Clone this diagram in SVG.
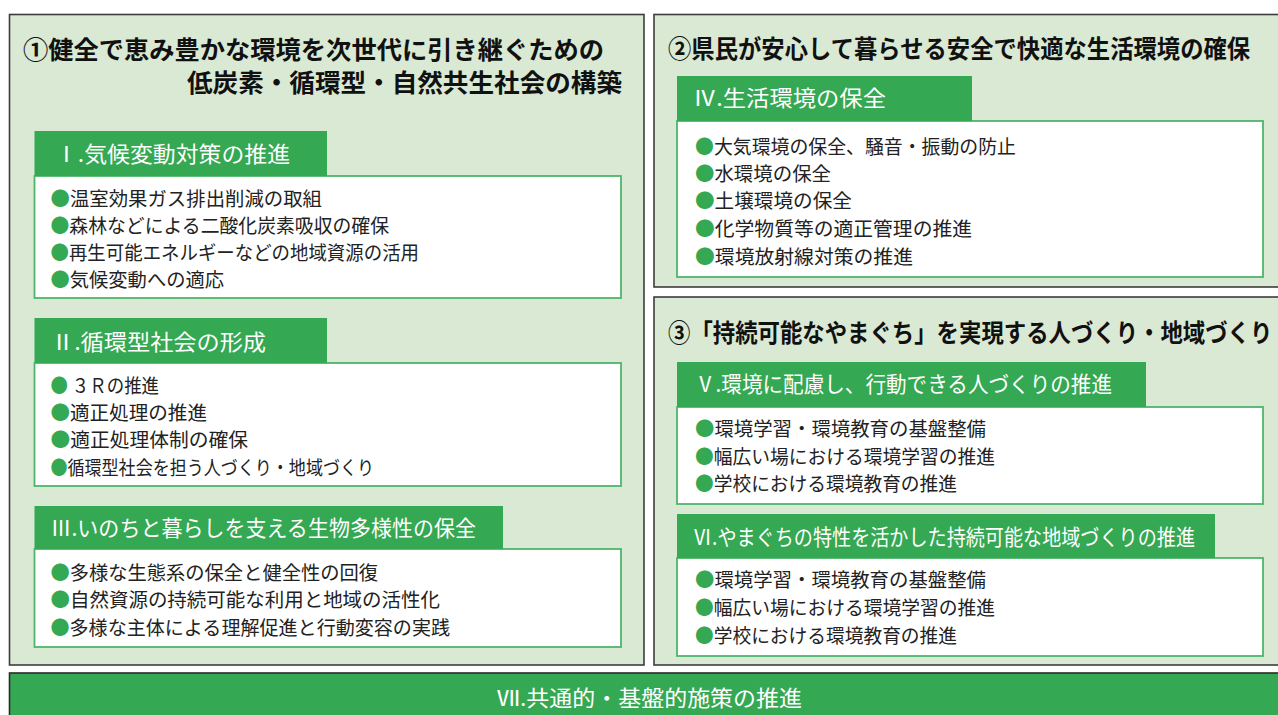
<svg xmlns="http://www.w3.org/2000/svg" width="1278" height="715" viewBox="0 0 1278 715">
<style>
.panel{fill:#d9e9d3;stroke:#3c3c3c;stroke-width:1.6}
.hdr{fill:#35a853}
.box{fill:#ffffff;stroke:#4db66b;stroke-width:1.8}
.title{font-family:"Noto Sans CJK JP",sans-serif;font-weight:700;font-size:25px;fill:#111}
.htxt{font-family:"Noto Sans CJK JP",sans-serif;font-size:22px;fill:#ffffff}
.item{font-family:"Noto Sans CJK JP",sans-serif;font-size:19.5px;fill:#222}
.bul{fill:#35a853}
.bar{fill:#35a853;stroke:#2a2a2a;stroke-width:1.6}
</style>
<rect width="1278" height="715" fill="#ffffff"/>
<g id="panel1">
<rect class="panel" x="9.5" y="14.5" width="634.5" height="650.5"/>
<text class="title" x="23" y="58.5" textLength="581" lengthAdjust="spacingAndGlyphs">①健全で恵み豊かな環境を次世代に引き継ぐための</text>
<text class="title" x="187" y="91.5" textLength="435" lengthAdjust="spacingAndGlyphs">低炭素・循環型・自然共生社会の構築</text>
</g>
<g id="node-I">
<rect class="box" x="34.5" y="176" width="586.5" height="122"/>
<rect class="hdr" x="34.5" y="131" width="292.5" height="45"/>
<text class="htxt" x="55" y="162" textLength="235" lengthAdjust="spacingAndGlyphs">Ⅰ.気候変動対策の推進</text>
<text class="item" x="50.5" y="205.5" textLength="271.5" lengthAdjust="spacingAndGlyphs"><tspan class="bul">●</tspan>温室効果ガス排出削減の取組</text>
<text class="item" x="50.5" y="232.5" textLength="338.5" lengthAdjust="spacingAndGlyphs"><tspan class="bul">●</tspan>森林などによる二酸化炭素吸収の確保</text>
<text class="item" x="50.5" y="259.5" textLength="368.5" lengthAdjust="spacingAndGlyphs"><tspan class="bul">●</tspan>再生可能エネルギーなどの地域資源の活用</text>
<text class="item" x="50.5" y="286.5" textLength="173.5" lengthAdjust="spacingAndGlyphs"><tspan class="bul">●</tspan>気候変動への適応</text>
</g>
<g id="node-II">
<rect class="box" x="34.5" y="363" width="586.5" height="123"/>
<rect class="hdr" x="34.5" y="318" width="292.5" height="45"/>
<text class="htxt" x="51" y="350" textLength="215" lengthAdjust="spacingAndGlyphs">Ⅱ.循環型社会の形成</text>
<text class="item" x="50.5" y="392.5" textLength="108.5" lengthAdjust="spacingAndGlyphs"><tspan class="bul">●</tspan> ３Ｒの推進</text>
<text class="item" x="50.5" y="419.5" textLength="156.5" lengthAdjust="spacingAndGlyphs"><tspan class="bul">●</tspan>適正処理の推進</text>
<text class="item" x="50.5" y="446.5" textLength="197.5" lengthAdjust="spacingAndGlyphs"><tspan class="bul">●</tspan>適正処理体制の確保</text>
<text class="item" x="50.5" y="474.5" textLength="323.5" lengthAdjust="spacingAndGlyphs"><tspan class="bul">●</tspan>循環型社会を担う人づくり・地域づくり</text>
</g>
<g id="node-III">
<rect class="box" x="34.5" y="549" width="586.5" height="98"/>
<rect class="hdr" x="34.5" y="506" width="468.5" height="43"/>
<text class="htxt" x="50.5" y="536" textLength="425.5" lengthAdjust="spacingAndGlyphs">Ⅲ.いのちと暮らしを支える生物多様性の保全</text>
<text class="item" x="50.5" y="579.5" textLength="327.5" lengthAdjust="spacingAndGlyphs"><tspan class="bul">●</tspan>多様な生態系の保全と健全性の回復</text>
<text class="item" x="50.5" y="606.5" textLength="389.5" lengthAdjust="spacingAndGlyphs"><tspan class="bul">●</tspan>自然資源の持続可能な利用と地域の活性化</text>
<text class="item" x="50.5" y="634.5" textLength="399.5" lengthAdjust="spacingAndGlyphs"><tspan class="bul">●</tspan>多様な主体による理解促進と行動変容の実践</text>
</g>
<g id="panel2">
<rect class="panel" x="654" y="14.5" width="625.5" height="272.5"/>
<text class="title" transform="translate(668 57.5) scale(0.934 1)" x="0" y="0">②県民が安心して暮らせる安全で快適な生活環境の確保</text>
</g>
<g id="node-IV">
<rect class="box" x="677" y="121" width="586" height="156"/>
<rect class="hdr" x="677" y="76" width="295" height="45"/>
<text class="htxt" x="693" y="106" textLength="193" lengthAdjust="spacingAndGlyphs">Ⅳ.生活環境の保全</text>
<text class="item" x="695" y="153.5" textLength="321" lengthAdjust="spacingAndGlyphs"><tspan class="bul">●</tspan>大気環境の保全、騒音・振動の防止</text>
<text class="item" x="695" y="180.5" textLength="136" lengthAdjust="spacingAndGlyphs"><tspan class="bul">●</tspan>水環境の保全</text>
<text class="item" x="695" y="207.5" textLength="157" lengthAdjust="spacingAndGlyphs"><tspan class="bul">●</tspan>土壌環境の保全</text>
<text class="item" x="695" y="235.5" textLength="277" lengthAdjust="spacingAndGlyphs"><tspan class="bul">●</tspan>化学物質等の適正管理の推進</text>
<text class="item" x="695" y="263.5" textLength="218" lengthAdjust="spacingAndGlyphs"><tspan class="bul">●</tspan>環境放射線対策の推進</text>
</g>
<g id="panel3">
<rect class="panel" x="654" y="297" width="625.5" height="368"/>
<text class="title" transform="translate(668 341.5) scale(0.896 1)" x="0" y="0">③「持続可能なやまぐち」を実現する人づくり・地域づくり</text>
</g>
<g id="node-V">
<rect class="box" x="677" y="407" width="586" height="97"/>
<rect class="hdr" x="677" y="362" width="469" height="45"/>
<text class="htxt" x="695" y="392" textLength="417" lengthAdjust="spacingAndGlyphs">Ⅴ.環境に配慮し、行動できる人づくりの推進</text>
<text class="item" x="695" y="435.5" textLength="291" lengthAdjust="spacingAndGlyphs"><tspan class="bul">●</tspan>環境学習・環境教育の基盤整備</text>
<text class="item" x="695" y="463.5" textLength="300" lengthAdjust="spacingAndGlyphs"><tspan class="bul">●</tspan>幅広い場における環境学習の推進</text>
<text class="item" x="695" y="490.5" textLength="262" lengthAdjust="spacingAndGlyphs"><tspan class="bul">●</tspan>学校における環境教育の推進</text>
</g>
<g id="node-VI">
<rect class="box" x="677" y="558" width="586" height="98"/>
<rect class="hdr" x="677" y="514" width="538" height="44"/>
<text class="htxt" x="693" y="545" textLength="502" lengthAdjust="spacingAndGlyphs">Ⅵ.やまぐちの特性を活かした持続可能な地域づくりの推進</text>
<text class="item" x="695" y="586.5" textLength="291" lengthAdjust="spacingAndGlyphs"><tspan class="bul">●</tspan>環境学習・環境教育の基盤整備</text>
<text class="item" x="695" y="614.5" textLength="300" lengthAdjust="spacingAndGlyphs"><tspan class="bul">●</tspan>幅広い場における環境学習の推進</text>
<text class="item" x="695" y="642.5" textLength="262" lengthAdjust="spacingAndGlyphs"><tspan class="bul">●</tspan>学校における環境教育の推進</text>
</g>
<g id="node-VII">
<rect class="bar" x="9.5" y="673" width="1270" height="44"/>
<text class="htxt" x="497" y="706" textLength="305" lengthAdjust="spacingAndGlyphs">Ⅶ.共通的・基盤的施策の推進</text>
</g>
<g id="connectors"></g>
</svg>
